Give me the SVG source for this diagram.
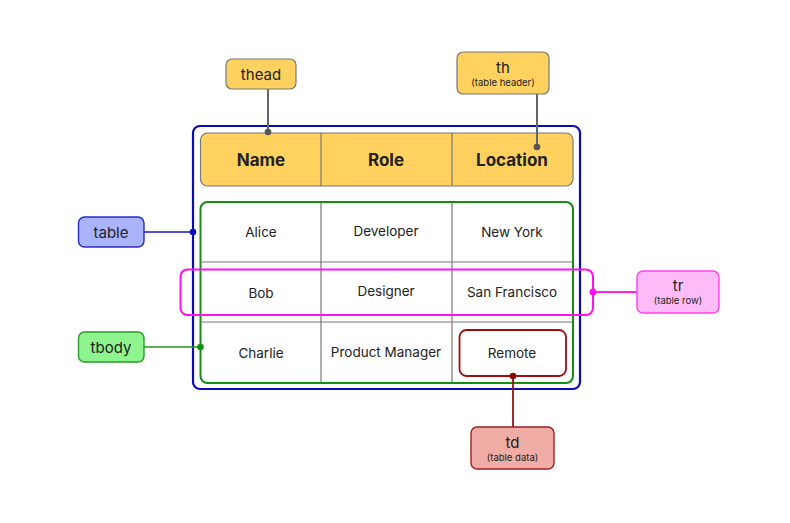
<svg xmlns="http://www.w3.org/2000/svg" width="790" height="523" viewBox="0 0 790 523">
<style>
text{font-family:Inter,"Noto Sans","Liberation Sans",sans-serif;fill:#222;text-anchor:middle;dominant-baseline:central}
.hd{font-size:17px;font-weight:700}
.cell{font-size:13.5px}
.lbl{font-size:15px}
.sub{font-size:9.5px}
.grid{stroke:#777;stroke-width:1.2;fill:none}
</style>
<rect width="790" height="523" fill="#fff"/>
<g id="table">
<rect x="193" y="126" width="387" height="263" rx="7" fill="none" stroke="#0b0bb8" stroke-width="2.2"/>
</g>
<g id="thead">
<rect x="200.5" y="133" width="372.5" height="53" rx="7" fill="#ffd15e" stroke="#777" stroke-width="1.2"/>
<line class="grid" x1="321" y1="133" x2="321" y2="186"/>
<line class="grid" x1="452" y1="133" x2="452" y2="186"/>
<text class="hd" x="261" y="160">Name</text>
<text class="hd" x="386" y="160">Role</text>
<text class="hd" x="512" y="160">Location</text>
</g>
<g id="tbody">
<line class="grid" x1="321" y1="202" x2="321" y2="383"/>
<line class="grid" x1="452" y1="202" x2="452" y2="383"/>
<line class="grid" x1="200" y1="262" x2="573" y2="262"/>
<line class="grid" x1="200" y1="322" x2="573" y2="322"/>
<rect x="200.5" y="202" width="372.5" height="181" rx="7" fill="none" stroke="#129012" stroke-width="2"/>
<text class="cell" x="261" y="232">Alice</text>
<text class="cell" x="386" y="231">Developer</text>
<text class="cell" x="512" y="232">New York</text>
<text class="cell" x="261" y="293">Bob</text>
<text class="cell" x="386" y="291">Designer</text>
<text class="cell" x="512" y="292">San Francisco</text>
<text class="cell" x="261" y="353">Charlie</text>
<text class="cell" x="386" y="352">Product Manager</text>
<text class="cell" x="512" y="353">Remote</text>
</g>
<g id="tr-row">
<rect x="180.5" y="269.5" width="412.5" height="45.5" rx="7" fill="none" stroke="#ff10f0" stroke-width="2"/>
</g>
<g id="td-cell">
<rect x="459.5" y="330" width="106.5" height="46" rx="7" fill="none" stroke="#9a1010" stroke-width="1.8"/>
</g>
<g id="connectors">
<line x1="268" y1="89" x2="268" y2="132" stroke="#666" stroke-width="2"/>
<circle cx="268" cy="132" r="3.3" fill="#555"/>
<line x1="537" y1="94" x2="537" y2="147" stroke="#666" stroke-width="2"/>
<circle cx="537" cy="147" r="3.3" fill="#555"/>
<line x1="144" y1="232" x2="193" y2="232" stroke="#1a1ac0" stroke-width="1.6"/>
<circle cx="193" cy="232" r="3.3" fill="#0b0bb8"/>
<line x1="144" y1="347" x2="200" y2="347" stroke="#1a9a1a" stroke-width="1.6"/>
<circle cx="200.5" cy="347" r="3.3" fill="#129012"/>
<line x1="593" y1="292" x2="637" y2="292" stroke="#ff20f0" stroke-width="1.8"/>
<circle cx="593" cy="292" r="3.5" fill="#ff10f0"/>
<line x1="513" y1="376" x2="513" y2="427" stroke="#9a1010" stroke-width="1.8"/>
<circle cx="513" cy="376" r="3.3" fill="#8a0a0a"/>
</g>
<g id="label-thead">
<rect x="226" y="59" width="70" height="30" rx="6" fill="#ffd15e" stroke="#777" stroke-width="1.2"/>
<text class="lbl" x="261" y="74">thead</text>
</g>
<g id="label-th">
<rect x="457" y="52" width="92" height="42" rx="6" fill="#ffd15e" stroke="#777" stroke-width="1.2"/>
<text class="lbl" x="503" y="67">th</text>
<text class="sub" x="503" y="82">(table  header)</text>
</g>
<g id="label-table">
<rect x="78.5" y="217" width="65.5" height="30" rx="6" fill="#a9b4fa" stroke="#2a2ac8" stroke-width="1.4"/>
<text class="lbl" x="111" y="232">table</text>
</g>
<g id="label-tbody">
<rect x="78.5" y="332" width="65.5" height="30" rx="6" fill="#8ef58e" stroke="#2a9a2a" stroke-width="1.4"/>
<text class="lbl" x="111" y="347">tbody</text>
</g>
<g id="label-tr">
<rect x="637" y="271" width="82" height="42" rx="6" fill="#ffbcf8" stroke="#ff40f0" stroke-width="1.4"/>
<text class="lbl" x="678" y="285">tr</text>
<text class="sub" x="678" y="300">(table row)</text>
</g>
<g id="label-td">
<rect x="471" y="427" width="83" height="42" rx="6" fill="#f0ada6" stroke="#a02020" stroke-width="1.4"/>
<text class="lbl" x="512.5" y="442">td</text>
<text class="sub" x="512.5" y="457">(table data)</text>
</g>
</svg>
